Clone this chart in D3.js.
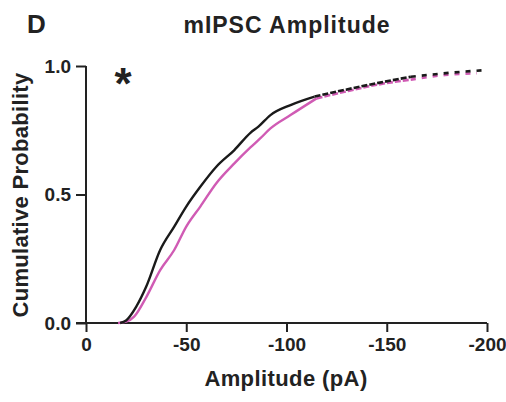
<!DOCTYPE html>
<html>
<head>
<meta charset="utf-8">
<script src="https://cdn.jsdelivr.net/npm/d3@7"></script>
<style>
  body { margin: 0; background: #fff; }
  svg text { font-family: "Liberation Sans", Arial, sans-serif; font-weight: bold; fill: #222; }
</style>
</head>
<body>
<svg width="506" height="402"></svg>
<script>
// cumulative distributions (amplitude in pA, probability)
const blackAmp = [-17, -20, -25, -30, -37, -44, -50, -57, -65, -74, -82, -86, -92, -102, -114, -129, -145, -162, -182, -199];
const blackProb = [0, 0.01, 0.063, 0.141, 0.284, 0.375, 0.453, 0.53, 0.608, 0.673, 0.74, 0.764, 0.809, 0.848, 0.881, 0.907, 0.933, 0.958, 0.974, 0.984];

const pinkAmp = [-16, -20, -24, -30, -37, -44, -50, -57, -65, -74, -82, -87, -92, -102, -115, -129, -145, -162, -179, -195];
const pinkProb = [0, 0.005, 0.025, 0.1, 0.206, 0.284, 0.375, 0.453, 0.544, 0.621, 0.683, 0.719, 0.757, 0.809, 0.874, 0.9, 0.927, 0.947, 0.965, 0.972];

const xTicks = [0, -50, -100, -150, -200];
const yTicks = [0, 0.5, 1];

const svg = d3.select("svg");

const x = d3.scaleLinear().domain([0, -200]).range([86, 487]);
const y = d3.scaleLinear().domain([0, 1]).range([323, 66]);

// axes
const xAxis = svg.append("g")
  .attr("transform", `translate(0,${y(0)})`)
  .call(d3.axisBottom(x).tickValues(xTicks).tickSize(9).tickPadding(6).tickFormat(d => String(d)));

const yAxis = svg.append("g")
  .attr("transform", `translate(${x(0)},0)`)
  .call(d3.axisLeft(y).tickValues(yTicks).tickSize(10).tickPadding(5).tickFormat(d3.format(".1f")));

for (const ax of [xAxis, yAxis]) {
  ax.select(".domain").attr("stroke", "#222").attr("stroke-width", 2);
  ax.selectAll(".tick line").attr("stroke", "#222").attr("stroke-width", 2);
  ax.selectAll(".tick text").attr("font-size", 19).attr("fill", "#222");
}
xAxis.select(".domain").attr("d", `M${x(0) - 10},0H${x(-200)}`);
yAxis.select(".domain").attr("d", `M0,${y(0)}V${y(1)}`);

// curves: solid body, dashed sparse tail
const line = d3.line().x(d => x(d[0])).y(d => y(d[1])).curve(d3.curveMonotoneX);

function drawCurve(amps, probs, color) {
  const pts = amps.map((a, i) => [a, probs[i]]);
  const body = pts.filter(d => d[0] >= -115);
  const mid = pts.filter(d => d[0] <= -114 && d[0] >= -163);
  const tail = pts.filter(d => d[0] <= -162);
  svg.append("path").attr("d", line(body)).attr("fill", "none")
    .attr("stroke", color).attr("stroke-width", 2.4);
  svg.append("path").attr("d", line(mid)).attr("fill", "none")
    .attr("stroke", color).attr("stroke-width", 2.6).attr("stroke-dasharray", "6,2");
  svg.append("path").attr("d", line(tail)).attr("fill", "none")
    .attr("stroke", color).attr("stroke-width", 2.6).attr("stroke-dasharray", "5,6");
}

drawCurve(pinkAmp, pinkProb, "#d05bb4");
drawCurve(blackAmp, blackProb, "#1a1a1a");

// labels
svg.append("text").attr("x", 27).attr("y", 33).attr("font-size", 26).text("D");
svg.append("text").attr("x", 287).attr("y", 33).attr("text-anchor", "middle")
  .attr("font-size", 23).attr("letter-spacing", 1).text("mIPSC Amplitude");
svg.append("text").attr("x", 286).attr("y", 386).attr("text-anchor", "middle")
  .attr("font-size", 22).attr("letter-spacing", 0.4).text("Amplitude (pA)");
svg.append("text").attr("transform", "translate(28,195) rotate(-90)")
  .attr("text-anchor", "middle").attr("font-size", 22).attr("letter-spacing", 0.3).text("Cumulative Probability");
svg.append("text").attr("x", 123).attr("y", 99).attr("text-anchor", "middle")
  .attr("font-size", 44).text("*");
</script>
</body>
</html>
